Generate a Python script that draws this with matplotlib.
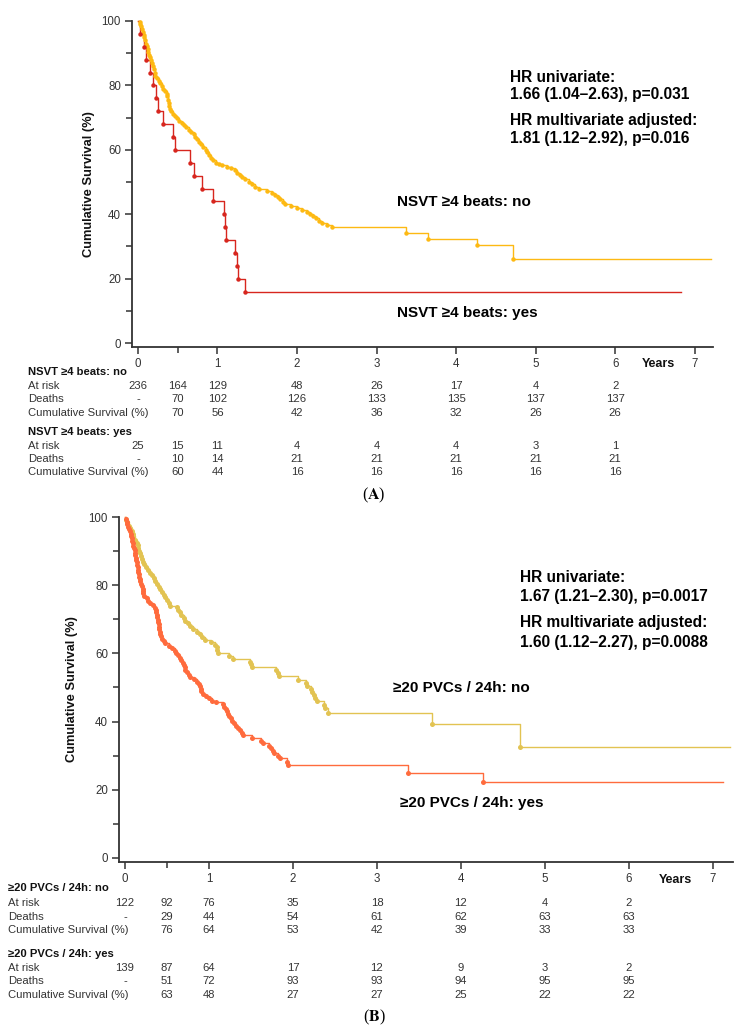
import numpy as np
import matplotlib.pyplot as plt
from matplotlib import transforms

plt.rcParams['font.family'] = ['Liberation Sans', 'DejaVu Sans']
plt.rcParams['mathtext.fontset'] = 'stix'

# ---------------- data ----------------
# Panel A: NSVT >=4 beats
a_no_t = [0.02, 0.03, 0.04, 0.05, 0.06, 0.07, 0.08, 0.09, 0.10, 0.11, 0.12, 0.13, 0.14, 0.15,
          0.17, 0.18, 0.19, 0.20, 0.21, 0.22, 0.24, 0.26, 0.28, 0.30, 0.32, 0.34, 0.36, 0.37,
          0.38, 0.385, 0.39, 0.40, 0.42, 0.44, 0.46, 0.49, 0.52, 0.55, 0.58, 0.61, 0.64, 0.67,
          0.70, 0.72, 0.74, 0.77, 0.79, 0.82, 0.85, 0.87, 0.89, 0.92, 0.94, 0.98, 1.02, 1.06,
          1.12, 1.17, 1.22, 1.25, 1.28, 1.31, 1.35, 1.39, 1.43, 1.47, 1.52, 1.62, 1.68, 1.72,
          1.76, 1.79, 1.82, 1.85, 1.92, 2.00, 2.06, 2.12, 2.16, 2.20, 2.24, 2.28, 2.32, 2.38,
          2.44, 3.37, 3.65, 4.26, 4.72]
a_no_s = [99.6, 99.0, 98.3, 97.5, 96.6, 95.8, 95.0, 94.0, 93.0, 92.2, 91.4, 90.5, 89.6, 88.8,
          87.9, 87.0, 86.0, 85.0, 84.0, 83.0, 82.2, 81.4, 80.6, 79.8, 79.0, 78.2, 77.4, 76.6,
          75.6, 74.6, 73.6, 72.8, 72.0, 71.2, 70.5, 69.8, 69.1, 68.4, 67.7, 67.0, 66.3, 65.6,
          64.9, 64.1, 63.3, 62.5, 61.7, 60.9, 60.0, 59.2, 58.4, 57.6, 56.8, 56.0, 55.6, 55.2,
          54.8, 54.3, 53.6, 52.9, 52.2, 51.5, 50.8, 50.1, 49.3, 48.5, 47.8, 47.2, 46.6, 46.0,
          45.3, 44.6, 43.9, 43.2, 42.6, 42.0, 41.4, 40.8, 40.1, 39.4, 38.7, 38.0, 37.3, 36.6,
          36.0, 34.3, 32.3, 30.4, 26.1]
a_no_end = 7.2

a_yes_t = [0.02, 0.07, 0.10, 0.15, 0.19, 0.23, 0.25, 0.31, 0.44, 0.46, 0.65, 0.70, 0.80, 0.94,
           1.08, 1.10, 1.11, 1.22, 1.24, 1.26, 1.35]
a_yes_s = [96, 92, 88, 84, 80, 76, 72, 68, 64, 60, 56, 52, 48, 44, 40, 36, 32, 28, 24, 20, 16]
a_yes_end = 6.83

# Panel B: >=20 PVCs / 24h
b_no_t = [0.01, 0.03, 0.05, 0.06, 0.08, 0.09, 0.10, 0.12, 0.14, 0.15, 0.16, 0.17, 0.18, 0.19,
          0.20, 0.21, 0.23, 0.25, 0.28, 0.30, 0.32, 0.34, 0.36, 0.38, 0.40, 0.42, 0.44, 0.46,
          0.48, 0.50, 0.52, 0.54, 0.62, 0.63, 0.65, 0.67, 0.70, 0.72, 0.75, 0.78, 0.81, 0.86,
          0.89, 0.92, 0.95, 1.03, 1.07, 1.09, 1.10, 1.11, 1.24, 1.29, 1.49, 1.50, 1.51, 1.80,
          1.82, 1.84, 2.06, 2.15, 2.17, 2.21, 2.23, 2.25, 2.26, 2.29, 2.37, 2.38, 2.42, 3.65,
          4.70]
b_no_s = [99.2, 98.4, 97.5, 96.7, 95.9, 95.1, 94.3, 93.4, 92.5, 91.7, 90.9, 90.1, 89.3, 88.5,
          87.7, 86.9, 86.1, 85.3, 84.5, 83.7, 82.9, 82.1, 81.3, 80.4, 79.6, 78.8, 78.0, 77.2,
          76.4, 75.6, 74.8, 74.0, 73.6, 72.8, 72.0, 71.2, 70.4, 69.6, 68.8, 68.0, 67.2, 66.4,
          65.6, 64.8, 64.0, 63.4, 62.6, 61.8, 61.0, 60.2, 59.2, 58.4, 57.6, 56.8, 56.0, 55.2,
          54.3, 53.5, 52.1, 51.2, 50.4, 49.5, 48.6, 47.8, 46.9, 46.0, 45.0, 44.1, 42.6, 39.2,
          32.6]
b_no_end = 7.2

b_yes_t = [0.01, 0.02, 0.03, 0.04, 0.05, 0.06, 0.07, 0.075, 0.08, 0.085, 0.09, 0.10, 0.11, 0.115,
           0.12, 0.125, 0.13, 0.135, 0.14, 0.145, 0.15, 0.155, 0.16, 0.165, 0.17, 0.175, 0.18,
           0.19, 0.20, 0.21, 0.215, 0.22, 0.23, 0.26, 0.28, 0.30, 0.33, 0.36, 0.37, 0.375, 0.38,
           0.385, 0.39, 0.395, 0.40, 0.405, 0.41, 0.415, 0.42, 0.43, 0.44, 0.46, 0.48, 0.52, 0.56,
           0.59, 0.61, 0.63, 0.65, 0.67, 0.69, 0.70, 0.71, 0.72, 0.74, 0.76, 0.78, 0.82, 0.86,
           0.88, 0.89, 0.90, 0.91, 0.93, 0.96, 1.00, 1.04, 1.08, 1.17, 1.18, 1.20, 1.21, 1.23,
           1.24, 1.26, 1.28, 1.30, 1.32, 1.34, 1.37, 1.39, 1.41, 1.51, 1.62, 1.64, 1.72, 1.74,
           1.76, 1.77, 1.82, 1.85, 1.93, 1.94, 3.37, 4.26]
b_yes_s = [99.3, 98.6, 97.9, 97.2, 96.5, 95.8, 95.1, 94.4, 93.7, 93.0, 92.3, 91.6, 90.9, 90.2,
           89.5, 88.8, 88.1, 87.4, 86.7, 86.0, 85.3, 84.6, 83.9, 83.2, 82.5, 81.8, 81.1,
           80.4, 79.7, 79.0, 78.3, 77.6, 76.9, 76.2, 75.5, 74.8, 74.1, 73.4, 72.7, 72.0, 71.3,
           70.6, 69.9, 69.2, 68.5, 67.8, 67.1, 66.4, 65.7, 65.0, 64.3, 63.6, 62.9, 62.2, 61.5,
           60.8, 60.1, 59.4, 58.7, 58.0, 57.3, 56.6, 55.9, 55.2, 54.5, 53.8, 53.1, 52.4, 51.7,
           51.0, 50.3, 49.6, 48.9, 48.2, 47.5, 46.8, 46.1, 45.6, 45.1, 44.4, 43.7, 43.0, 42.3,
           41.6, 40.9, 40.2, 39.5, 38.8, 38.1, 37.4, 36.7, 36.0, 35.1, 34.3, 33.6, 32.8, 32.1,
           31.4, 30.7, 29.9, 29.2, 28.0, 27.2, 25.0, 22.4]
b_yes_end = 7.12

table_times = [0, 0.5, 1, 2, 3, 4, 5, 6]
row_names = ['At risk', 'Deaths', 'Cumulative Survival (%)']

a_no_risk = ['236', '164', '129', '48', '26', '17', '4', '2']
a_no_deaths = ['-', '70', '102', '126', '133', '135', '137', '137']
a_no_cum = ['', '70', '56', '42', '36', '32', '26', '26']
a_yes_risk = ['25', '15', '11', '4', '4', '4', '3', '1']
a_yes_deaths = ['-', '10', '14', '21', '21', '21', '21', '21']
a_yes_cum = ['', '60', '44', '16', '16', '16', '16', '16']

b_no_risk = ['122', '92', '76', '35', '18', '12', '4', '2']
b_no_deaths = ['-', '29', '44', '54', '61', '62', '63', '63']
b_no_cum = ['', '76', '64', '53', '42', '39', '33', '33']
b_yes_risk = ['139', '87', '64', '17', '12', '9', '3', '2']
b_yes_deaths = ['-', '51', '72', '93', '93', '94', '95', '95']
b_yes_cum = ['', '63', '48', '27', '27', '25', '22', '22']

hr_a = ['HR univariate:', '1.66 (1.04\u20132.63), p=0.031',
        'HR multivariate adjusted:', '1.81 (1.12\u20132.92), p=0.016']
hr_b = ['HR univariate:', '1.67 (1.21\u20132.30), p=0.0017',
        'HR multivariate adjusted:', '1.60 (1.12\u20132.27), p=0.0088']

# ---------------- figure ----------------
W, H = 748, 1031
fig = plt.figure(figsize=(W / 100, H / 100), dpi=100)
dark = '#333333'
TS = 8.1   # table font size


def fy(py):
    return 1 - py / H


def fx(px):
    return px / W


def make_axes(left, top, right, bottom, xlim):
    ax = fig.add_axes([left / W, 1 - bottom / H, (right - left) / W, (bottom - top) / H])
    ax.set_xlim(*xlim)
    ax.set_ylim(-1.2, 100)
    for s in ['top', 'right']:
        ax.spines[s].set_visible(False)
    for s in ['left', 'bottom']:
        ax.spines[s].set_linewidth(1.3)
        ax.spines[s].set_color(dark)
    ax.set_yticks([0, 20, 40, 60, 80, 100])
    ax.set_yticks([10, 30, 50, 70, 90], minor=True)
    ax.set_xticks(range(8))
    ax.set_xticks([0.5], minor=True)
    ax.tick_params(which='major', length=5, width=1.1, color=dark, labelcolor=dark,
                   labelsize=8.3, pad=3)
    ax.tick_params(which='minor', length=4, width=1.1, color=dark)
    ax.set_ylabel('Cumulative Survival (%)', fontsize=9.3, fontweight='bold', color='#111111')
    return ax


def km(ax, t, s, end, color, ms):
    xs = [0] + list(t) + [end]
    ys = [100] + list(s) + [s[-1]]
    ax.step(xs, ys, where='post', color=color, lw=1.0, clip_on=False, zorder=3)
    ax.plot(t, s, 'o', color=color, ms=ms, mec='none', clip_on=False, zorder=4)


def table(ax, x0, header, ys, rows):
    tr = transforms.blended_transform_factory(ax.transData, fig.transFigure)
    fig.text(fx(x0), fy(ys[0]), header, fontsize=TS, fontweight='bold', va='center',
             color='#111111')
    for name, yy, vals in zip(row_names, ys[1:], rows):
        fig.text(fx(x0), fy(yy), name, fontsize=TS, va='center', color=dark)
        for tt, v in zip(table_times, vals):
            if v:
                ax.text(tt, fy(yy), v, transform=tr, fontsize=TS, ha='center', va='center',
                        color=dark)


# ---- Panel A ----
axA = make_axes(132, 21, 713, 347, (-0.075, 7.23))
axA.yaxis.set_label_coords(-0.064, 0.5)
km(axA, a_no_t, a_no_s, a_no_end, '#FDB913', 3.2)
km(axA, a_yes_t, a_yes_s, a_yes_end, '#D7261E', 3.2)
trA = transforms.blended_transform_factory(axA.transData, fig.transFigure)
axA.text(6.55, fy(364), 'Years', transform=trA, fontsize=9, fontweight='bold',
         ha='center', va='center', color='#111111')
for yy, line in zip([77, 95, 120, 139], hr_a):
    fig.text(fx(510), fy(yy), line, fontsize=11.2, fontweight='bold', va='center')
fig.text(fx(397), fy(202), 'NSVT \u22654 beats: no', fontsize=11, fontweight='bold', va='center')
fig.text(fx(397), fy(313), 'NSVT \u22654 beats: yes', fontsize=11, fontweight='bold', va='center')
table(axA, 28, 'NSVT \u22654 beats: no', [372, 386, 399, 413],
      [a_no_risk, a_no_deaths, a_no_cum])
table(axA, 28, 'NSVT \u22654 beats: yes', [432, 446, 459, 472],
      [a_yes_risk, a_yes_deaths, a_yes_cum])
fig.text(0.5, fy(495), r'($\mathbf{A}$)', fontsize=11.5, ha='center', va='center',
         family='Liberation Serif')

# ---- Panel B ----
axB = make_axes(119, 517, 733, 862, (-0.071, 7.24))
axB.yaxis.set_label_coords(-0.067, 0.5)
km(axB, b_no_t, b_no_s, b_no_end, '#E2C352', 3.6)
km(axB, b_yes_t, b_yes_s, b_yes_end, '#FF6B3D', 3.6)
trB = transforms.blended_transform_factory(axB.transData, fig.transFigure)
axB.text(6.55, fy(880), 'Years', transform=trB, fontsize=9, fontweight='bold',
         ha='center', va='center', color='#111111')
for yy, line in zip([577, 596, 623, 643], hr_b):
    fig.text(fx(520), fy(yy), line, fontsize=11.2, fontweight='bold', va='center')
fig.text(fx(393), fy(688), '\u226520 PVCs / 24h: no', fontsize=11, fontweight='bold', va='center')
fig.text(fx(400), fy(803), '\u226520 PVCs / 24h: yes', fontsize=11, fontweight='bold', va='center')
table(axB, 8, '\u226520 PVCs / 24h: no', [888, 903, 917, 930],
      [b_no_risk, b_no_deaths, b_no_cum])
table(axB, 8, '\u226520 PVCs / 24h: yes', [954, 968, 981, 995],
      [b_yes_risk, b_yes_deaths, b_yes_cum])
fig.text(0.5, fy(1017), r'($\mathbf{B}$)', fontsize=11.5, ha='center', va='center',
         family='Liberation Serif')

fig.savefig('out.png', dpi=100)
